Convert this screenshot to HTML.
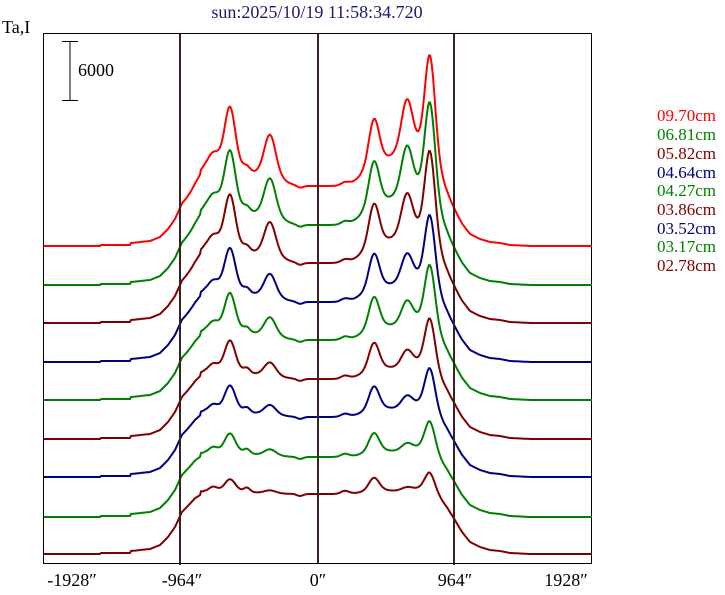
<!DOCTYPE html>
<html><head><meta charset="utf-8"><style>
html,body{margin:0;padding:0;background:#fff;}
svg{display:block;font-family:"Liberation Serif",serif;}
</style></head><body>
<svg id="s" width="725" height="595" viewBox="0 0 725 595" xmlns="http://www.w3.org/2000/svg">
<rect x="0" y="0" width="725" height="595" fill="#fff"/>
<text x="317" y="18" text-anchor="middle" font-size="18" fill="#1a1a6e">sun:2025/10/19 11:58:34.720</text>
<text x="2" y="33" font-size="18" fill="#000">Ta,I</text>
<rect x="43.5" y="33.5" width="548" height="530" fill="none" stroke="#000" stroke-width="1"/>
<line x1="70" y1="41.5" x2="70" y2="101" stroke="#000" stroke-width="1"/>
<line x1="62" y1="41.5" x2="78" y2="41.5" stroke="#000" stroke-width="1"/>
<line x1="62" y1="100.5" x2="78" y2="100.5" stroke="#000" stroke-width="1"/>
<text x="78" y="76" font-size="18" fill="#000">6000</text>
<g id="tr"></g>
<line x1="180" y1="34" x2="180" y2="565" stroke="#3a2020" stroke-width="2"/>
<line x1="318" y1="34" x2="318" y2="563" stroke="#3a2020" stroke-width="2"/>
<line x1="454" y1="34" x2="454" y2="565" stroke="#3a2020" stroke-width="2"/>
<g font-size="18" fill="#000" text-anchor="middle">
<text x="72" y="586">-1928″</text>
<text x="182" y="586">-964″</text>
<text x="318" y="586">0″</text>
<text x="455" y="586">964″</text>
<text x="566" y="586">1928″</text>
</g>
<g font-size="17">
<text x="657" y="121" fill="#ff0000">09.70cm</text>
<text x="657" y="140" fill="#008000">06.81cm</text>
<text x="657" y="159" fill="#800000">05.82cm</text>
<text x="657" y="178" fill="#000080">04.64cm</text>
<text x="657" y="196" fill="#008000">04.27cm</text>
<text x="657" y="215" fill="#800000">03.86cm</text>
<text x="657" y="234" fill="#000080">03.52cm</text>
<text x="657" y="252" fill="#008000">03.17cm</text>
<text x="657" y="271" fill="#800000">02.78cm</text>
</g>
</svg>
<script>
var env=[[43,0],[100,0],[101,1],[130,1],[131,3],[150,5],[160,9],[168,17],[175,27],[182,42],[195,55],[205,60],[429,60],[440,52],[447,45],[454,35],[462,22],[470,12],[480,7],[490,4],[500,3],[510,1],[530,0],[592,0]];
function E(x){for(var i=0;i<env.length-1;i++){var a=env[i],b=env[i+1];if(x>=a[0]&&x<=b[0]){return a[1]+(b[1]-a[1])*(x-a[0])/(b[0]-a[0]);}}return 0;}
function g(x,c,s,a){return a*Math.exp(-(x-c)*(x-c)/(2*s*s));}
var pk=[[230,5,52,0.9],[234,13,22,1],[270,5.5,36,1.5],[268,12,15,1.5],[374,5,42,0.7],[377,13,24,1],[407,5.5,48,1.5],[405,13,30,1.5],[430,5,92,1],[428,12,35,1],[212,11,24,1.3]];
var small=[[197,4,5],[213,4,4],[247,3,4],[345,4,3],[300,3,-2]];
var base=[246,285,323,362,400,439,477,517,554];
var f=[1,.94,.86,.67,.58,.47,.38,.28,.17];
var col=["#ff0000","#008000","#800000","#000080","#008000","#800000","#000080","#008000","#800000"];
var out="";
for(var k=0;k<9;k++){var d="";for(var x=44;x<=592;x+=1){var h=E(x);var inside=(x>200&&x<440)?1:0;for(var j=0;j<pk.length;j++)h+=g(x,pk[j][0],pk[j][1],pk[j][2]*Math.pow(f[k],pk[j][3]));for(j=0;j<small.length;j++)h+=inside*g(x,small[j][0],small[j][1],small[j][2]);var y=base[k]-h;d+=(x==44?"M":"L")+x+" "+y.toFixed(1);}
out+='<path d="'+d+'" fill="none" stroke="'+col[k]+'" stroke-width="2"/>';}
document.getElementById("tr").innerHTML=out;
</script>
</body></html>
